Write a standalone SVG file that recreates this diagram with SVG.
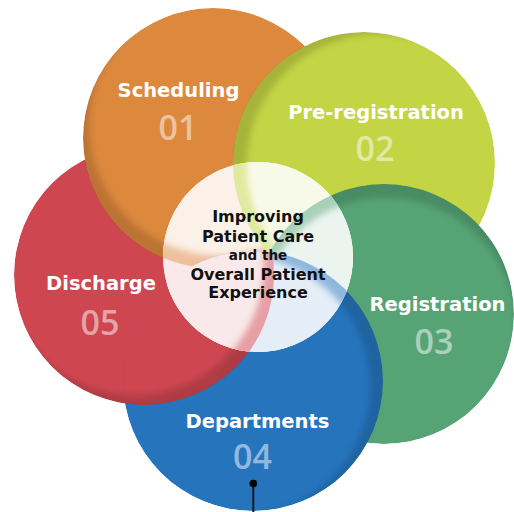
<svg xmlns="http://www.w3.org/2000/svg" xmlns:xlink="http://www.w3.org/1999/xlink" width="514" height="512" viewBox="0 0 514 512">
<style>
.lbl{font-family:"DejaVu Sans",Verdana,sans-serif;font-weight:bold;font-size:19.5px;fill:#fff;text-anchor:middle}
.num{font-family:"Open Sans","DejaVu Sans",sans-serif;font-weight:600;font-size:34px;fill:#fff;fill-opacity:.5;text-anchor:middle}
.ctr{font-family:"DejaVu Sans",Verdana,sans-serif;font-weight:bold;font-size:16px;fill:#111;text-anchor:middle}
.ctr-s{font-size:13.5px}
.shade{fill:none;stroke:#000;stroke-opacity:.15;stroke-width:60}
.band{fill:none;stroke-width:60;stroke-opacity:.45}
</style>
<defs>
<filter id="soft" filterUnits="userSpaceOnUse" x="-150" y="-150" width="814" height="812"><feGaussianBlur stdDeviation="3"/></filter>
<clipPath id="clip-orange"><circle cx="213" cy="138" r="130"/></clipPath>
<clipPath id="clip-pre"><circle cx="364" cy="163" r="131"/></clipPath>
<clipPath id="clip-green"><circle cx="384" cy="314" r="130"/></clipPath>
<clipPath id="clip-blue"><circle cx="253" cy="381" r="130"/></clipPath>
<clipPath id="clip-red"><circle cx="144" cy="275" r="130"/></clipPath>
<clipPath id="clip-center"><circle cx="258" cy="257" r="95"/></clipPath>
<g id="disc-red" clip-path="url(#clip-red)">
<circle cx="144" cy="275" r="130" fill="#CE4650"/>
<circle class="shade" cx="134" cy="265.2" r="160" filter="url(#soft)"/>
</g>
<g id="disc-red-c" clip-path="url(#clip-red)">
<circle cx="144" cy="275" r="130" fill="#F9E9EA"/>
<circle class="band" stroke="#CE4650" cx="134" cy="265.2" r="160" filter="url(#soft)"/>
</g>
</defs>

<g id="node-discharge">
<use xlink:href="#disc-red"/>
<text class="lbl" x="101" y="290">Discharge</text>
<text class="num" x="100" y="335">05</text>
</g>

<g id="node-scheduling">
<g clip-path="url(#clip-orange)">
<circle cx="213" cy="138" r="130" fill="#DC883D"/>
<circle class="shade" cx="219.3" cy="125.5" r="160" filter="url(#soft)"/>
</g>
<text class="lbl" x="178.5" y="97">Scheduling</text>
<text class="num" x="178" y="140">01</text>
</g>

<g id="node-preregistration">
<g clip-path="url(#clip-pre)">
<circle cx="364" cy="163" r="131" fill="#C3D445"/>
<circle class="shade" cx="377.8" cy="165.3" r="161" filter="url(#soft)"/>
</g>
<text class="lbl" x="376" y="119">Pre-registration</text>
<text class="num" x="375" y="161">02</text>
</g>

<g id="node-registration">
<g clip-path="url(#clip-green)">
<circle cx="384" cy="314" r="130" fill="#56A476"/>
<circle class="shade" cx="385.8" cy="327.9" r="160" filter="url(#soft)"/>
</g>
<text class="lbl" x="437.5" y="311">Registration</text>
<text class="num" x="434" y="354">03</text>
</g>

<g id="node-departments">
<g clip-path="url(#clip-blue)">
<circle cx="253" cy="381" r="130" fill="#2574BC"/>
<circle class="shade" cx="240" cy="386" r="160" filter="url(#soft)"/>
</g>
<text class="lbl" x="257.5" y="428">Departments</text>
<text class="num" x="252.5" y="469">04</text>
</g>

<g id="node-discharge-overlap" clip-path="url(#clip-blue)">
<use xlink:href="#disc-red"/>
</g>

<g id="node-center">
<g clip-path="url(#clip-center)">
<circle cx="258" cy="257" r="95" fill="#fff"/>
<use xlink:href="#disc-red-c"/>
<g clip-path="url(#clip-orange)">
<circle cx="213" cy="138" r="130" fill="#FBF1E8"/>
<circle class="band" stroke="#DC883D" cx="219.3" cy="125.5" r="160" filter="url(#soft)"/>
</g>
<g clip-path="url(#clip-pre)">
<circle cx="364" cy="163" r="131" fill="#F8FAE9"/>
<circle class="band" stroke="#C3D445" cx="377.8" cy="165.3" r="161" filter="url(#soft)"/>
</g>
<g clip-path="url(#clip-green)">
<circle cx="384" cy="314" r="130" fill="#EBF4EF"/>
<circle class="band" stroke="#56A476" cx="385.8" cy="327.9" r="160" filter="url(#soft)"/>
</g>
<g clip-path="url(#clip-blue)">
<circle cx="253" cy="381" r="130" fill="#E5EEF7"/>
<circle class="band" stroke="#2574BC" cx="240" cy="386" r="160" filter="url(#soft)"/>
</g>
<g clip-path="url(#clip-blue)"><use xlink:href="#disc-red-c"/></g>
</g>
<text class="ctr" x="258" y="222">Improving</text>
<text class="ctr" x="258" y="242">Patient Care</text>
<text class="ctr ctr-s" x="258" y="260">and the</text>
<text class="ctr" x="258" y="280">Overall Patient</text>
<text class="ctr" x="258" y="298">Experience</text>
</g>

<g id="connectors">
<line x1="253.3" y1="483.5" x2="253.3" y2="512" stroke="#1a1a1a" stroke-width="2"/>
<circle cx="253.3" cy="483.5" r="3.8" fill="#000"/>
</g>
</svg>
